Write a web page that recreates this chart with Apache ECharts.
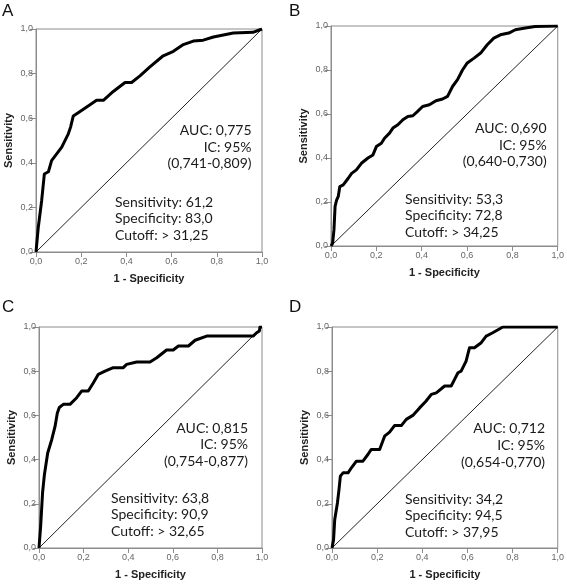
<!DOCTYPE html>
<html><head><meta charset="utf-8">
<script src="https://cdn.jsdelivr.net/npm/echarts@6/dist/echarts.min.js"></script>
<style>html,body{margin:0;padding:0;background:#fff}#c{width:567px;height:586px}</style>
</head><body><div id="c"></div>
<script>
// ---- data ----
const panelLetters = ['A', 'B', 'C', 'D'];
const tickValues = [0, 0.2, 0.4, 0.6, 0.8, 1.0];
const xAxisTitle = '1 - Specificity';
const yAxisTitle = 'Sensitivity';

const rocA = [[0,0],[0.01,0.11],[0.025,0.23],[0.037,0.35],[0.055,0.36],[0.069,0.41],[0.084,0.43],[0.114,0.47],[0.143,0.53],[0.153,0.56],[0.165,0.61],[0.195,0.63],[0.239,0.66],[0.268,0.68],[0.298,0.68],[0.342,0.72],[0.394,0.76],[0.423,0.76],[0.46,0.79],[0.504,0.83],[0.563,0.88],[0.608,0.90],[0.652,0.93],[0.696,0.946],[0.74,0.95],[0.785,0.964],[0.873,0.982],[0.96,0.985],[1,1]];
const rocB = [[0,0],[0.007,0.012],[0.013,0.073],[0.018,0.18],[0.025,0.21],[0.032,0.225],[0.039,0.27],[0.054,0.278],[0.076,0.308],[0.091,0.33],[0.112,0.346],[0.134,0.376],[0.163,0.40],[0.185,0.414],[0.2,0.452],[0.222,0.467],[0.236,0.49],[0.258,0.513],[0.273,0.536],[0.295,0.551],[0.317,0.574],[0.339,0.589],[0.361,0.592],[0.382,0.612],[0.404,0.634],[0.434,0.642],[0.463,0.66],[0.492,0.668],[0.514,0.68],[0.536,0.725],[0.558,0.756],[0.58,0.80],[0.601,0.832],[0.631,0.854],[0.66,0.877],[0.689,0.915],[0.718,0.945],[0.747,0.96],[0.784,0.968],[0.813,0.983],[0.857,0.991],[0.9,0.998],[1,1]];
const rocC = [[0,0],[0.0075,0.10],[0.016,0.25],[0.024,0.33],[0.039,0.43],[0.057,0.49],[0.072,0.55],[0.082,0.61],[0.091,0.636],[0.109,0.65],[0.139,0.65],[0.169,0.68],[0.191,0.71],[0.221,0.71],[0.244,0.748],[0.266,0.786],[0.296,0.80],[0.333,0.816],[0.378,0.816],[0.393,0.831],[0.438,0.842],[0.498,0.842],[0.528,0.861],[0.572,0.896],[0.602,0.896],[0.625,0.914],[0.67,0.914],[0.70,0.94],[0.752,0.959],[0.96,0.959],[0.976,0.974],[0.988,0.982],[0.991,1.0],[1,1]];
const rocD = [[0,0],[0.007,0.038],[0.012,0.128],[0.019,0.128],[0.024,0.204],[0.031,0.264],[0.037,0.325],[0.049,0.34],[0.071,0.34],[0.086,0.363],[0.108,0.393],[0.137,0.393],[0.159,0.423],[0.174,0.446],[0.211,0.446],[0.233,0.506],[0.255,0.524],[0.277,0.554],[0.307,0.554],[0.329,0.582],[0.358,0.60],[0.388,0.634],[0.417,0.665],[0.44,0.695],[0.462,0.702],[0.499,0.733],[0.528,0.733],[0.543,0.763],[0.558,0.793],[0.572,0.80],[0.594,0.846],[0.609,0.906],[0.631,0.906],[0.661,0.929],[0.683,0.959],[0.712,0.974],[0.757,1.0],[1,1]];
const referenceLine = [[0,0],[1,1]];

const aucTexts = [
  ['AUC: 0,775', 'IC: 95%', '(0,741-0,809)'],
  ['AUC: 0,690', 'IC: 95%', '(0,640-0,730)'],
  ['AUC: 0,815', 'IC: 95%', '(0,754-0,877)'],
  ['AUC: 0,712', 'IC: 95%', '(0,654-0,770)']
];
const cutoffTexts = [
  ['Sensitivity: 61,2', 'Specificity: 83,0', 'Cutoff: > 31,25'],
  ['Sensitivity: 53,3', 'Specificity: 72,8', 'Cutoff: > 34,25'],
  ['Sensitivity: 63,8', 'Specificity: 90,9', 'Cutoff: > 32,65'],
  ['Sensitivity: 34,2', 'Specificity: 94,5', 'Cutoff: > 37,95']
];
const curves = [rocA, rocB, rocC, rocD];

// ---- layout ----
const grids = [
  {left: 36, top: 29, width: 226, height: 223},
  {left: 331, top: 26, width: 228, height: 220},
  {left: 39, top: 327, width: 223, height: 221},
  {left: 332, top: 327, width: 226, height: 221}
];
const letterPos = [[2, 3], [289, 3], [2, 299], [289, 299]];
const aucPos = [  // right x, first line center y
  [251.5, 130.5], [546.7, 128.7], [248, 428], [545, 428.8]
];
const cutPos = [
  [115, 202], [405, 199], [111, 498], [405, 499]
];
const lineGap = 16.6;
const annoFont = 'Lato';
const annoSize = 14;

const fmt = v => v.toFixed(1).replace('.', ',');
const axisGray = '#8c8c8c';

const option = {
  animation: false,
  backgroundColor: '#fff',
  grid: grids.map(g => Object.assign({show: true, borderColor: axisGray, borderWidth: 1, backgroundColor: 'transparent'}, g)),
  xAxis: grids.map((g, i) => ({
    type: 'value', gridIndex: i, min: 0, max: 1, interval: 0.2,
    name: xAxisTitle, nameLocation: 'middle', nameGap: 21,
    nameTextStyle: {fontFamily: 'Liberation Sans', fontWeight: 'bold', fontSize: 11, color: '#222'},
    axisLine: {show: true, lineStyle: {color: axisGray, width: 1}},
    axisTick: {show: true, length: 5, lineStyle: {color: axisGray}},
    axisLabel: {formatter: fmt, fontFamily: 'Liberation Sans', fontSize: 9, color: '#666', margin: 5},
    splitLine: {show: false}
  })),
  yAxis: grids.map((g, i) => ({
    type: 'value', gridIndex: i, min: 0, max: 1, interval: 0.2,
    name: yAxisTitle, nameLocation: 'middle', nameGap: 22, nameRotate: 90,
    nameTextStyle: {fontFamily: 'Liberation Sans', fontWeight: 'bold', fontSize: 11, color: '#222'},
    axisLine: {show: true, lineStyle: {color: axisGray, width: 1}},
    axisTick: {show: true, length: 6, lineStyle: {color: axisGray}},
    axisLabel: {formatter: fmt, fontFamily: 'Liberation Sans', fontSize: 9, color: '#666', margin: 3},
    splitLine: {show: false}
  })),
  series: []
};
curves.forEach((c, i) => {
  option.series.push({
    type: 'line', xAxisIndex: i, yAxisIndex: i, data: referenceLine,
    symbol: 'none', lineStyle: {color: '#222', width: 1}, silent: true
  });
  option.series.push({
    type: 'line', xAxisIndex: i, yAxisIndex: i, data: c,
    symbol: 'none', lineStyle: {color: '#000', width: 3, join: 'round'}, silent: true
  });
});

const graphics = [];
panelLetters.forEach((L, i) => {
  graphics.push({type: 'text', left: letterPos[i][0], top: letterPos[i][1],
    style: {text: L, font: '17px "Liberation Sans"', fill: '#111'}});
  aucTexts[i].forEach((t, k) => {
    graphics.push({type: 'text', x: aucPos[i][0], y: aucPos[i][1] + k * lineGap,
      style: {text: t, font: annoSize + 'px "' + annoFont + '"', fill: '#1a1a1a', textAlign: 'right', textVerticalAlign: 'middle'}});
  });
  cutoffTexts[i].forEach((t, k) => {
    graphics.push({type: 'text', x: cutPos[i][0], y: cutPos[i][1] + k * lineGap,
      style: {text: t, font: annoSize + 'px "' + annoFont + '"', fill: '#1a1a1a', textAlign: 'left', textVerticalAlign: 'middle'}});
  });
});
option.graphic = graphics;

const chart = echarts.init(document.getElementById('c'), null, {renderer: 'canvas'});
chart.setOption(option);
</script>
</body></html>
